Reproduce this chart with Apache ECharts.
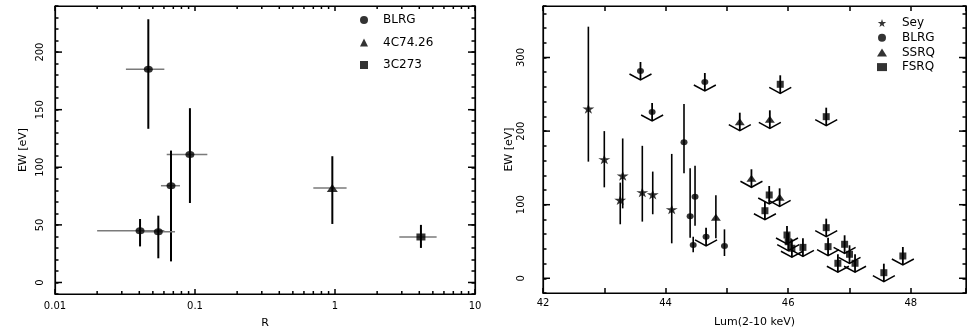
<!DOCTYPE html>
<html><head><meta charset="utf-8">
<script src="https://cdn.jsdelivr.net/npm/echarts@6/dist/echarts.min.js"></script>
<style>html,body{margin:0;padding:0;background:#fff}#c{width:967px;height:327px}</style>
</head><body><div id="c"></div>
<script>
// ---------- Left panel: EW vs R ----------
const L_BLRG_R    = [0.0464, 0.092, 0.0674, 0.0405, 0.0547];
const L_BLRG_RLO  = [0.0321, 0.0628, 0.0571, 0.020, 0.043];
const L_BLRG_RHI  = [0.0604, 0.1225, 0.0781, 0.0604, 0.072];
const L_BLRG_EW   = [185, 111, 84, 45, 44];
const L_BLRG_EWLO = [133.4, 69, 18.3, 31.3, 21];
const L_BLRG_EWHI = [228.5, 151.3, 114.5, 55.1, 58];

const L_4C_R = [0.957], L_4C_RLO = [0.70], L_4C_RHI = [1.21];
const L_4C_EW = [82], L_4C_EWLO = [50.8], L_4C_EWHI = [109.6];

const L_3C_R = [4.11], L_3C_RLO = [2.88], L_3C_RHI = [5.32];
const L_3C_EW = [39.5], L_3C_EWLO = [30], L_3C_EWHI = [50];

const L_X_EXT = [0.01, 10];
const L_Y_EXT = [-10, 240];
const L_X_MAJOR = [0.01, 0.1, 1, 10];
const L_X_MAJOR_LABELS = ['0.01', '0.1', '1', '10'];
const L_X_MINOR = [0.02,0.03,0.04,0.05,0.06,0.07,0.08,0.09,0.2,0.3,0.4,0.5,0.6,0.7,0.8,0.9,2,3,4,5,6,7,8,9];
const L_Y_MAJOR = [0, 50, 100, 150, 200];

// ---------- Right panel: EW vs Lum ----------
const R_SEY_X  = [42.74, 43.00, 43.30, 43.26, 43.62, 43.79, 44.10];
const R_SEY_Y  = [230.5, 161.6, 139.4, 106.4, 116.8, 114, 93.7];
const R_SEY_LO = [158.5, 123.6, 95, 73.4, 77, 87, 47.5];
const R_SEY_HI = [341.9, 200, 190, 130, 180, 145, 169];

const R_BLRG_X  = [44.30, 44.40, 44.48, 44.45, 44.96];
const R_BLRG_Y  = [184.8, 84.2, 110.9, 45.2, 43.9];
const R_BLRG_LO = [142.6, 55.2, 71.5, 35.3, 30.3];
const R_BLRG_HI = [236.8, 149.4, 153, 56.5, 66.5];
const R_BLRG_UL_X = [43.59, 43.78, 44.64, 44.66];
const R_BLRG_UL_Y = [281.7, 226, 266.7, 56.3];

const R_SSRQ_X  = [44.82];
const R_SSRQ_Y  = [82.9];
const R_SSRQ_LO = [54.3];
const R_SSRQ_HI = [113];
const R_SSRQ_UL_X = [45.21, 45.70, 45.40, 45.86];
const R_SSRQ_UL_Y = [212.8, 216, 135.9, 110];

const R_FSRQ_UL_X = [45.87, 46.62, 45.69, 45.62, 45.98, 46.00, 46.06, 46.24, 46.62, 46.65, 46.81, 46.92, 47.00, 47.09, 47.56, 47.87];
const R_FSRQ_UL_Y = [263.6, 219.6, 113.2, 91.8, 58.8, 49.7, 40.8, 42, 68.8, 43, 20.4, 46.2, 32.6, 20.4, 7.6, 30.3];

const R_X_EXT = [42, 48.9];
const R_Y_EXT = [-20, 370];
const R_X_MAJOR = [42, 44, 46, 48];
const R_Y_MAJOR = [0, 100, 200, 300];

// ---------- helpers ----------
const FONT = 'DejaVu Sans';
const STAR = 'path://M50,0 L61,35 L98,35 L68,57 L79,91 L50,70 L21,91 L32,57 L2,35 L39,35 Z';
const zip = (...a) => a[0].map((_, i) => a.map(arr => arr[i]));

function renderErrLeft(params, api) {
  const x = api.value(0), y = api.value(1);
  const h1 = api.coord([api.value(2), y]), h2 = api.coord([api.value(3), y]);
  const v1 = api.coord([x, api.value(4)]), v2 = api.coord([x, api.value(5)]);
  return {type: 'group', children: [
    {type: 'line', shape: {x1: h1[0], y1: h1[1], x2: h2[0], y2: h2[1]}, style: {stroke: '#7a7a7a', lineWidth: 1.5}},
    {type: 'line', shape: {x1: v1[0], y1: v1[1], x2: v2[0], y2: v2[1]}, style: {stroke: '#000', lineWidth: 2}}
  ]};
}
function renderErrRight(params, api) {
  const x = api.value(0);
  const v1 = api.coord([x, api.value(1)]), v2 = api.coord([x, api.value(2)]);
  return {type: 'line', shape: {x1: v1[0], y1: v1[1], x2: v2[0], y2: v2[1]}, style: {stroke: '#000', lineWidth: 1.6}};
}
function renderArrow(params, api) {
  const p = api.coord([api.value(0), api.value(1)]);
  const x = p[0], y = p[1];
  return {type: 'group', children: [
    {type: 'line', shape: {x1: x, y1: y - 9, x2: x, y2: y + 9}, style: {stroke: '#000', lineWidth: 1.8}},
    {type: 'polyline', shape: {points: [[x - 11, y + 3], [x, y + 9], [x + 11, y + 3]]}, style: {stroke: '#000', fill: null, lineWidth: 1.5}}
  ]};
}
// x-axis minor ticks (bottom and top) : data [xValue, yMin, yMax, length]
function renderXTick(params, api) {
  const v = api.value(0), len = api.value(3);
  const b = api.coord([v, api.value(1)]), t = api.coord([v, api.value(2)]);
  return {type: 'group', children: [
    {type: 'line', shape: {x1: b[0], y1: b[1], x2: b[0], y2: b[1] - len}, style: {stroke: '#000', lineWidth: 1.5}},
    {type: 'line', shape: {x1: t[0], y1: t[1], x2: t[0], y2: t[1] + len}, style: {stroke: '#000', lineWidth: 1.5}}
  ]};
}
// y-axis major ticks (left and right) : data [xMin, yValue, xMax, length]
function renderYTick(params, api) {
  const v = api.value(1), len = api.value(3);
  const l = api.coord([api.value(0), v]), r = api.coord([api.value(2), v]);
  return {type: 'group', children: [
    {type: 'line', shape: {x1: l[0], y1: l[1], x2: l[0] + len, y2: l[1]}, style: {stroke: '#000', lineWidth: 1.5}},
    {type: 'line', shape: {x1: r[0], y1: r[1], x2: r[0] - len, y2: r[1]}, style: {stroke: '#000', lineWidth: 1.5}}
  ]};
}
const xTicks = (vals, yExt, len) => vals.map(v => [v, yExt[0], yExt[1], len]);
const yTicks = (vals, xExt, len) => vals.map(v => [xExt[0], v, xExt[1], len]);

const mkLine = () => ({show: true, onZero: false, lineStyle: {color: '#000', width: 1.2}});
const mkTick = (len) => ({show: true, inside: true, length: len, lineStyle: {color: '#000', width: 1.5}});
const lbl = () => ({color: '#000', fontFamily: FONT, fontSize: 10});
const nameStyle = () => ({color: '#000', fontFamily: FONT, fontSize: 11});

const option = {
  animation: false,
  backgroundColor: '#fff',
  grid: [
    {left: 55, top: 6, width: 420, height: 288, show: true, borderColor: '#000', borderWidth: 1.2, outerBoundsMode: 'none'},
    {left: 543, top: 6, width: 423, height: 287, show: true, borderColor: '#000', borderWidth: 1.2, outerBoundsMode: 'none'}
  ],
  xAxis: [
    {gridIndex: 0, type: 'log', logBase: 10, min: L_X_EXT[0], max: L_X_EXT[1], position: 'bottom',
     axisLine: mkLine(), axisTick: mkTick(5),
     axisLabel: Object.assign({margin: 7, formatter: v => L_X_MAJOR_LABELS[L_X_MAJOR.findIndex(m => Math.abs(Math.log10(m) - Math.log10(v)) < 1e-6)] || ''}, lbl()),
     splitLine: {show: false}, name: 'R', nameLocation: 'middle', nameGap: 24, nameTextStyle: nameStyle()},
    {gridIndex: 0, type: 'log', logBase: 10, min: L_X_EXT[0], max: L_X_EXT[1], position: 'top',
     axisLine: mkLine(), axisTick: mkTick(5), axisLabel: {show: false}, splitLine: {show: false}},
    {gridIndex: 1, type: 'value', min: R_X_EXT[0], max: R_X_EXT[1], interval: 1, position: 'bottom',
     axisLine: mkLine(), axisTick: mkTick(5),
     axisLabel: Object.assign({margin: 5, formatter: v => R_X_MAJOR.indexOf(v) >= 0 ? String(v) : ''}, lbl()),
     splitLine: {show: false}, name: 'Lum(2-10 keV)', nameLocation: 'middle', nameGap: 24, nameTextStyle: nameStyle()},
    {gridIndex: 1, type: 'value', min: R_X_EXT[0], max: R_X_EXT[1], interval: 1, position: 'top',
     axisLine: mkLine(), axisTick: mkTick(5), axisLabel: {show: false}, splitLine: {show: false}}
  ],
  yAxis: [
    {gridIndex: 0, type: 'value', min: L_Y_EXT[0], max: L_Y_EXT[1], interval: 10, position: 'left',
     axisLine: mkLine(), axisTick: mkTick(3.5),
     axisLabel: Object.assign({margin: 10, rotate: 90, formatter: v => L_Y_MAJOR.indexOf(v) >= 0 ? String(v) : ''}, lbl()),
     splitLine: {show: false}, name: 'EW [eV]', nameLocation: 'middle', nameGap: 26, nameRotate: 90, nameTextStyle: nameStyle()},
    {gridIndex: 0, type: 'value', min: L_Y_EXT[0], max: L_Y_EXT[1], interval: 10, position: 'right',
     axisLine: mkLine(), axisTick: mkTick(3.5), axisLabel: {show: false}, splitLine: {show: false}},
    {gridIndex: 1, type: 'value', min: R_Y_EXT[0], max: R_Y_EXT[1], interval: 20, position: 'left',
     axisLine: mkLine(), axisTick: mkTick(3.5),
     axisLabel: Object.assign({margin: 17, rotate: 90, formatter: v => R_Y_MAJOR.indexOf(v) >= 0 ? String(v) : ''}, lbl()),
     splitLine: {show: false}, name: 'EW [eV]', nameLocation: 'middle', nameGap: 28, nameRotate: 90, nameTextStyle: nameStyle()},
    {gridIndex: 1, type: 'value', min: R_Y_EXT[0], max: R_Y_EXT[1], interval: 20, position: 'right',
     axisLine: mkLine(), axisTick: mkTick(3.5), axisLabel: {show: false}, splitLine: {show: false}}
  ],
  legend: [
    {orient: 'vertical', left: 355, top: 8, itemWidth: 8, itemHeight: 8, itemGap: 8.5, selectedMode: false,
     textStyle: {color: '#000', fontFamily: FONT, fontSize: 12, lineHeight: 14, padding: [0, 0, 0, 10]},
     data: [{name: 'BLRG', icon: 'circle'}, {name: '4C74.26', icon: 'triangle'}, {name: '3C273', icon: 'rect'}]},
    {orient: 'vertical', left: 872, top: 11, itemWidth: 10, itemHeight: 8, itemGap: 0.7, selectedMode: false,
     textStyle: {color: '#000', fontFamily: FONT, fontSize: 12, lineHeight: 14, padding: [0, 0, 0, 10]},
     data: [{name: 'Sey', icon: STAR}, {name: 'BLRG', icon: 'circle'}, {name: 'SSRQ', icon: 'triangle'}, {name: 'FSRQ', icon: 'rect'}]}
  ],
  series: [
    // left panel ticks
    {type: 'custom', xAxisIndex: 0, yAxisIndex: 0, renderItem: renderXTick,
     data: xTicks(L_X_MINOR, L_Y_EXT, 3)},
    {type: 'custom', xAxisIndex: 0, yAxisIndex: 0, renderItem: renderYTick,
     data: yTicks(L_Y_MAJOR, L_X_EXT, 7)},
    // left error bars
    {type: 'custom', xAxisIndex: 0, yAxisIndex: 0, renderItem: renderErrLeft, silent: true, z: 2,
     data: zip(L_BLRG_R, L_BLRG_EW, L_BLRG_RLO, L_BLRG_RHI, L_BLRG_EWLO, L_BLRG_EWHI)
       .concat(zip(L_4C_R, L_4C_EW, L_4C_RLO, L_4C_RHI, L_4C_EWLO, L_4C_EWHI))
       .concat(zip(L_3C_R, L_3C_EW, L_3C_RLO, L_3C_RHI, L_3C_EWLO, L_3C_EWHI))},
    {name: 'BLRG', type: 'scatter', xAxisIndex: 0, yAxisIndex: 0, symbol: 'circle', symbolSize: [9, 7], z: 3,
     itemStyle: {color: '#000'}, data: zip(L_BLRG_R, L_BLRG_EW)},
    {name: '4C74.26', type: 'scatter', xAxisIndex: 0, yAxisIndex: 0, symbol: 'triangle', symbolSize: [11, 8], z: 3,
     itemStyle: {color: '#000'}, data: zip(L_4C_R, L_4C_EW)},
    {name: '3C273', type: 'scatter', xAxisIndex: 0, yAxisIndex: 0, symbol: 'rect', symbolSize: [9, 7], z: 3,
     itemStyle: {color: '#000'}, data: zip(L_3C_R, L_3C_EW)},

    // right panel ticks
    {type: 'custom', xAxisIndex: 2, yAxisIndex: 2, renderItem: renderYTick,
     data: yTicks(R_Y_MAJOR, R_X_EXT, 7)},
    {type: 'custom', xAxisIndex: 2, yAxisIndex: 2, renderItem: renderErrRight, silent: true, z: 2,
     data: zip(R_SEY_X, R_SEY_LO, R_SEY_HI).concat(zip(R_BLRG_X, R_BLRG_LO, R_BLRG_HI)).concat(zip(R_SSRQ_X, R_SSRQ_LO, R_SSRQ_HI))},
    {type: 'custom', xAxisIndex: 2, yAxisIndex: 2, renderItem: renderArrow, silent: true, z: 2,
     data: zip(R_BLRG_UL_X, R_BLRG_UL_Y).concat(zip(R_SSRQ_UL_X, R_SSRQ_UL_Y)).concat(zip(R_FSRQ_UL_X, R_FSRQ_UL_Y))},
    {name: 'Sey', type: 'scatter', xAxisIndex: 2, yAxisIndex: 2, symbol: STAR, symbolSize: [12, 10], z: 3,
     itemStyle: {color: '#000'}, data: zip(R_SEY_X, R_SEY_Y)},
    {name: 'BLRG', type: 'scatter', xAxisIndex: 2, yAxisIndex: 2, symbol: 'circle', symbolSize: [7, 6], z: 3,
     itemStyle: {color: '#000'}, data: zip(R_BLRG_X, R_BLRG_Y).concat(zip(R_BLRG_UL_X, R_BLRG_UL_Y))},
    {name: 'SSRQ', type: 'scatter', xAxisIndex: 2, yAxisIndex: 2, symbol: 'triangle', symbolSize: [10, 7], z: 3,
     itemStyle: {color: '#000'}, data: zip(R_SSRQ_X, R_SSRQ_Y).concat(zip(R_SSRQ_UL_X, R_SSRQ_UL_Y))},
    {name: 'FSRQ', type: 'scatter', xAxisIndex: 2, yAxisIndex: 2, symbol: 'rect', symbolSize: [7, 7], z: 3,
     itemStyle: {color: '#000'}, data: zip(R_FSRQ_UL_X, R_FSRQ_UL_Y)}
  ]
};
const chart = echarts.init(document.getElementById('c'));
chart.setOption(option);
</script></body></html>
